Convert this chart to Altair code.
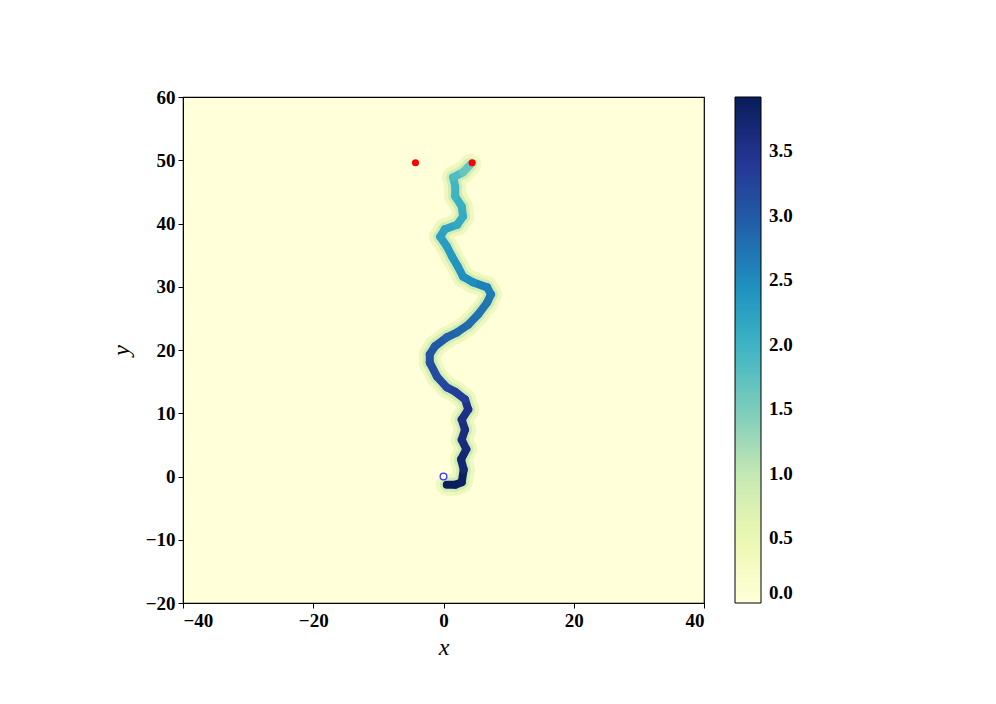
import altair as alt
import pandas as pd

# Path centre line (bottom -> top) and the value along it
path_x = [0.5, 1.8, 2.8, 3.1, 2.7, 3.5, 2.8, 3.3, 2.8, 3.8, 3.3, 1.8, 0.5, -1.0, -2.1, -2.1,
          -1.3, 0.5, 2.1, 3.8, 5.3, 6.7, 7.3, 6.7, 4.5, 3.0, 2.2, 1.3, 0.5, -0.5, 0.2, 2.1,
          3.0, 2.8, 1.8, 1.8, 1.5, 3.0, 4.1]
path_y = [-1.3, -1.3, -0.9, 1.1, 2.7, 4.3, 5.8, 7.4, 9.0, 10.6, 12.2, 13.4, 14.1, 15.8, 18.0,
          19.3, 20.6, 22.0, 22.8, 24.0, 25.6, 27.5, 28.8, 29.9, 30.7, 31.6, 33.2, 34.8, 36.4,
          37.9, 39.1, 39.8, 41.1, 42.7, 44.3, 45.8, 47.3, 48.1, 49.3]
path_v = [3.9, 3.9, 3.85, 3.7, 3.7, 3.65, 3.6, 3.6, 3.55, 3.5, 3.35, 3.3, 3.2, 3.15, 3.1,
          3.05, 3.0, 2.9, 2.85, 2.8, 2.75, 2.7, 2.65, 2.6, 2.5, 2.45, 2.4, 2.35, 2.3, 2.25,
          2.2, 2.15, 2.1, 2.05, 2.0, 1.95, 1.85, 1.65, 1.4]

target_x = [-4.3, 4.4]
target_y = [49.6, 49.6]
start_x = [0.0]
start_y = [0.0]

cbar_max = 3.92
cbar_ticks = [0.0, 0.5, 1.0, 1.5, 2.0, 2.5, 3.0, 3.5]
ylgnbu = ["#ffffd9", "#edf8b1", "#c7e9b4", "#7fcdbb", "#41b6c4",
          "#1d91c0", "#225ea8", "#253494", "#081d58"]

seg = pd.DataFrame({
    "x": path_x[:-1], "y": path_y[:-1],
    "x2": path_x[1:], "y2": path_y[1:],
    "v": path_v[:-1],
})
targets = pd.DataFrame({"x": target_x, "y": target_y})
start = pd.DataFrame({"x": start_x, "y": start_y})

font = "Liberation Serif"
xs = alt.Scale(domain=[-40, 40], nice=False, zero=False)
ys = alt.Scale(domain=[-20, 60], nice=False, zero=False)
dom = [cbar_max * i / 8 for i in range(9)]

xax = alt.Axis(values=[-40, -20, 0, 20, 40], title="x", grid=False)
yax = alt.Axis(values=list(range(-20, 61, 10)), title="y", grid=False)

base = alt.Chart(seg)

halo = base.mark_rule(strokeWidth=22, strokeCap="round", color="#eef8bd", opacity=0.8).encode(
    x=alt.X("x:Q", scale=xs, axis=xax), y=alt.Y("y:Q", scale=ys, axis=yax),
    x2="x2:Q", y2="y2:Q")

halo2 = base.mark_rule(strokeWidth=14, strokeCap="round", color="#cdebb4", opacity=0.8).encode(
    x=alt.X("x:Q", scale=xs), y=alt.Y("y:Q", scale=ys),
    x2="x2:Q", y2="y2:Q")

core = base.mark_rule(strokeWidth=8, strokeCap="round").encode(
    x=alt.X("x:Q", scale=xs), y=alt.Y("y:Q", scale=ys),
    x2="x2:Q", y2="y2:Q",
    color=alt.Color("v:Q",
                    scale=alt.Scale(domain=dom, range=ylgnbu, interpolate="rgb"),
                    legend=alt.Legend(title=None, orient="none", legendX=552, legendY=0,
                                      direction="vertical", gradientLength=506,
                                      gradientThickness=26, gradientStrokeColor="black",
                                      gradientStrokeWidth=1, values=cbar_ticks, format=".1f",
                                      labelFont=font, labelFontWeight="bold", labelFontSize=19,
                                      labelColor="black", labelOffset=8, labelOverlap=False)))

red = alt.Chart(targets).mark_circle(size=50, color="#ff0000", opacity=1).encode(
    x=alt.X("x:Q", scale=xs), y=alt.Y("y:Q", scale=ys))

blue = alt.Chart(start).mark_point(size=45, color="#3333ff", fill="white", filled=False,
                                   strokeWidth=1.3, opacity=1).encode(
    x=alt.X("x:Q", scale=xs), y=alt.Y("y:Q", scale=ys))

chart = alt.layer(halo, halo2, core, red, blue).properties(
    width=521, height=506,
    autosize=alt.AutoSizeParams(type="none"),
    padding={"left": 175, "top": 89, "right": 284, "bottom": 93},
).configure_view(
    fill="#ffffd9", stroke="black", strokeWidth=1.2
).configure_axis(
    labelFont=font, labelFontWeight="bold", labelFontSize=19, labelColor="black",
    tickColor="black", tickSize=5, domainColor="black",
    titleFont=font, titleFontStyle="italic", titleFontWeight="normal",
    titleFontSize=24, titleColor="black"
).configure_axisY(titlePadding=12, labelPadding=3).configure_axisX(titlePadding=5, labelPadding=3)

chart.save("out.html", embed_options={"renderer": "svg", "actions": False})
